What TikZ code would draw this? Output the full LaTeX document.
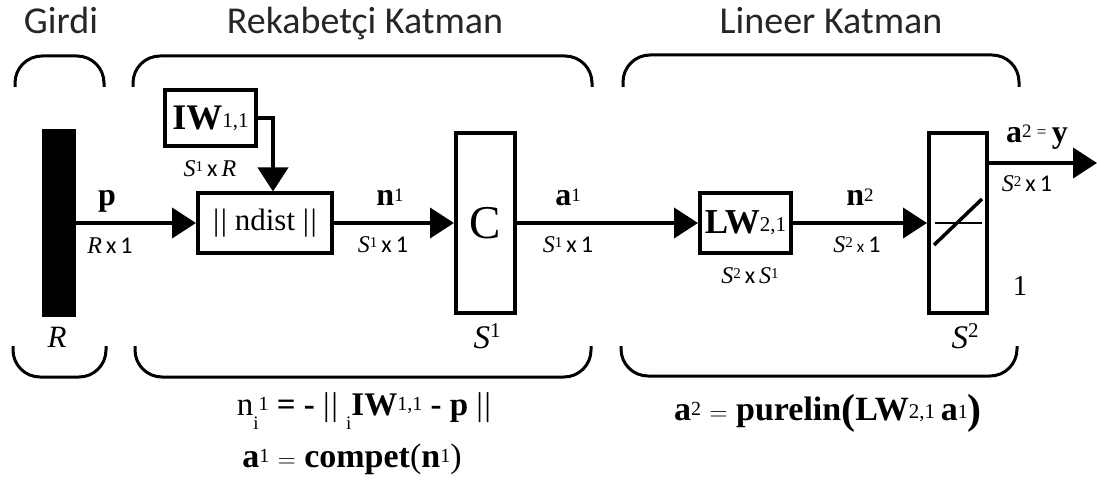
\documentclass[tikz,border=0pt]{standalone}
\usepackage{fontspec}
\setmainfont{Liberation Serif}
\newfontfamily\titlefont{Carlito}
\newfontfamily\dimsans{Carlito}
\usetikzlibrary{arrows.meta,calc}
\newcommand\fs[1]{\fontsize{#1}{#1}\selectfont}
\newcommand\rup[3]{\raisebox{#1}{\fs{#2}#3}}
\newcommand\dimS[1]{{\itshape S}\rup{5pt}{15}{\normalfont #1}}
\newcommand\dbar{|\kern1.5pt|}
\tikzset{
  box/.style={draw, line width=4pt, inner sep=0pt, fill=white},
  conn/.style={line width=4pt},
  arr/.style={conn, -{Triangle[length=24pt,width=30pt]}},
  brk/.style={line width=3pt, rounded corners=27pt},
  ttl/.style={font=\titlefont\fs{38}, text=black!85, anchor=base, inner sep=0pt},
  lbl/.style={anchor=base, inner sep=0pt, font=\fs{32}},
  dim/.style={anchor=base, inner sep=0pt, font=\fs{24}},
}
\begin{document}
\begin{tikzpicture}[x=1pt,y=-1pt]
\useasboundingbox (0,0) rectangle (1097,481);
% titles
\node[ttl] (tG) at (61,34) {Girdi};
\node[ttl] (tR) at (365,34) {Rekabetçi Katman};
\node[ttl] (tL) at (831,34) {Lineer Katman};
% brackets
\draw[brk] (15,87) -- (15,56) -- (104,56) -- (104,87);
\draw[brk] (133,87) -- (133,56) -- (592,56) -- (592,87);
\draw[brk] (623,87) -- (623,55) -- (1019,55) -- (1019,87);
\draw[brk] (13,346) -- (13,377) -- (106,377) -- (106,346);
\draw[brk] (135,346) -- (135,377) -- (591,377) -- (591,346);
\draw[brk] (621,346) -- (621,376) -- (1017,376) -- (1017,346);
% blocks
\node[fill=black, minimum width=34pt, minimum height=187pt, inner sep=0pt] (bar) at (59,223) {};
\node[box, minimum width=134pt, minimum height=59pt, font=\fs{31}] (nd) at (265,223) {\dbar\ ndist \dbar};
\node[box, minimum width=91pt, minimum height=56pt] (IW) at (210.5,118) {{\fs{36}\bfseries IW}\rup{2pt}{21}{1,1}};
\node[box, minimum width=59pt, minimum height=180pt, font=\fs{47}] (C) at (485.5,223) {C};
\node[box, minimum width=91pt, minimum height=59pt] (LW) at (745.5,223) {{\fs{35}\bfseries LW}\rup{2pt}{21}{2,1}};
\node[box, minimum width=58pt, minimum height=180pt] (Lin) at (958,223) {};
\draw[line width=1.5pt] ($(Lin.center)+(-23,0)$) -- ($(Lin.center)+(24,0)$);
\draw[line width=3.5pt] ($(Lin.center)+(-24,22)$) -- ($(Lin.center)+(24,-24)$);
\coordinate (out) at (1097,163);
% connectors
\draw[arr] (bar.east) -- (nd.west);
\draw[arr] (IW.east) -| ($(nd.north)+(8,0)$);
\draw[arr] (nd.east) -- (C.west);
\draw[arr] (C.east) -- (LW.west);
\draw[arr] (LW.east) -- (Lin.west);
\draw[arr] ($(Lin.north east)+(0,32)$) -- (out);
% labels
\node[lbl] (lp) at (107,205) {\bfseries p};
\node[dim] (dp) at (110,253) {{\itshape R}\,{\dimsans x\,1}};
\node[dim] (dIW) at (210,177) {\dimS{1}\,{\dimsans x}\,{\itshape R}};
\node[lbl] (ln1) at (390,206) {{\bfseries n}\rup{5pt}{19}{1}};
\node[dim] (dn1) at (383,252) {\dimS{1}\,{\dimsans x\,1}};
\node[lbl] (la1) at (568,206) {{\bfseries a}\rup{5pt}{19}{1}};
\node[dim] (da1) at (568,252) {\dimS{1}\,{\dimsans x\,1}};
\node[dim] (dLW) at (750,283) {\dimS{2}\,{\dimsans x}\,\dimS{1}};
\node[lbl] (ln2) at (860,206) {{\bfseries n}\rup{5pt}{19}{2}};
\node[dim] (dn2) at (857,252) {\dimS{2}\,{\dimsans\fs{17}x}\,{\dimsans 1}};
\node[lbl] (la2) at (1037,143) {{\bfseries a}\rup{5pt}{19}{2}\,\rup{5pt}{17}{=}\,{\bfseries y}};
\node[dim] (da2) at (1027,192) {\dimS{2}\,{\dimsans x\,1}};
\node[lbl, font=\fs{29}] (one) at (1020,295) {1};
\node[lbl, font=\fs{31}\itshape] (sR) at (57,347) {R};
\node[lbl, font=\fs{33}] (sS1) at (487,348) {{\itshape S}\rup{11pt}{21}{1}};
\node[lbl, font=\fs{33}] (sS2) at (965,348) {{\itshape S}\rup{11pt}{21}{2}};
% equations
\node[lbl, font=\fs{33}] (eq1) at (364,415) {n\rup{-14pt}{19}{i}\rup{5pt}{20}{1} {\bfseries = -} \dbar\ \rup{-14pt}{19}{i}{\bfseries IW}\rup{5pt}{20}{1,1} {\bfseries - p} \dbar};
\node[lbl, font=\fs{34}] (eq2) at (828,420) {{\bfseries a}\rup{5pt}{20}{2} $=$ {\bfseries purelin}\raisebox{-3pt}{\fs{42}\bfseries(}{\bfseries LW}\rup{2pt}{21}{2,1}\,{\bfseries a}\rup{2pt}{20}{1}\raisebox{-3pt}{\fs{42}\bfseries)}};
\node[lbl, font=\fs{34}] (eq3) at (352,467) {{\bfseries a}\rup{5pt}{20}{1} $=$ {\bfseries compet}(\textbf{n}\rup{5pt}{20}{1})};
\end{tikzpicture}
\end{document}
